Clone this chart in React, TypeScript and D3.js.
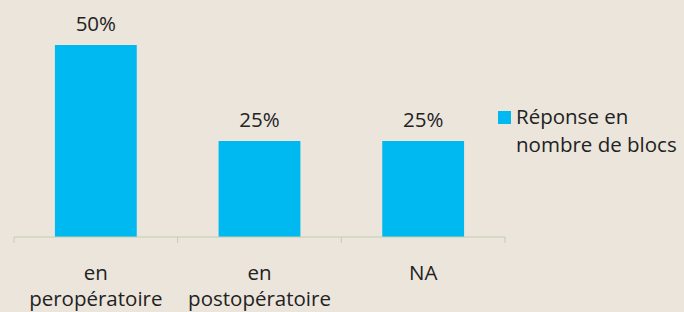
import React from "react";
import * as d3 from "d3";

const categories = ["en\nperopératoire", "en\npostopératoire", "NA"];
const values = [50, 25, 25];
const valueLabels = ["50%", "25%", "25%"];
const seriesName = ["Réponse en", "nombre de blocs"];

export default function App() {
  const W = 684, H = 312;
  const x0 = 14, x1 = 505, base = 237;
  const x = d3.scaleBand<string>().domain(categories).range([x0, x1]).paddingInner(0.5).paddingOuter(0.25);
  const y = d3.scaleLinear().domain([0, 50]).range([base, 45]);
  const step = x.step();
  const font = "'Open Sans', sans-serif";
  const fs = 20.5;
  const ticks = d3.range(categories.length + 1).map(i => x0 + i * step);
  return (
    <svg width={W} height={H} style={{ position: "absolute", left: 0, top: 0, background: "#ebe5dc" }}>
      <rect width={W} height={H} fill="#ebe5dc" />
      {categories.map((c, i) => (
        <g key={c}>
          <rect x={x(c)!} y={y(values[i])} width={x.bandwidth()} height={base - y(values[i])} fill="#00b9f1" />
          <text x={x(c)! + x.bandwidth() / 2} y={y(values[i]) - 14} textAnchor="middle" fontFamily={font} fontSize={fs} fill="#222">{valueLabels[i]}</text>
          {c.split("\n").map((line, j) => (
            <text key={j} x={x(c)! + x.bandwidth() / 2} y={280 + j * 26} textAnchor="middle" fontFamily={font} fontSize={fs} fill="#222">{line}</text>
          ))}
        </g>
      ))}
      <line x1={x0} x2={x1} y1={base} y2={base} stroke="#c3ceb0" strokeWidth={1} />
      {ticks.map((t, i) => (
        <line key={i} x1={t} x2={t} y1={base} y2={base + 6} stroke="#c3ceb0" strokeWidth={1} />
      ))}
      <rect x={498} y={111} width={13} height={13} fill="#00b9f1" />
      {seriesName.map((s, j) => (
        <text key={j} x={516} y={124 + j * 28} fontFamily={font} fontSize={fs} fill="#222">{s}</text>
      ))}
    </svg>
  );
}
